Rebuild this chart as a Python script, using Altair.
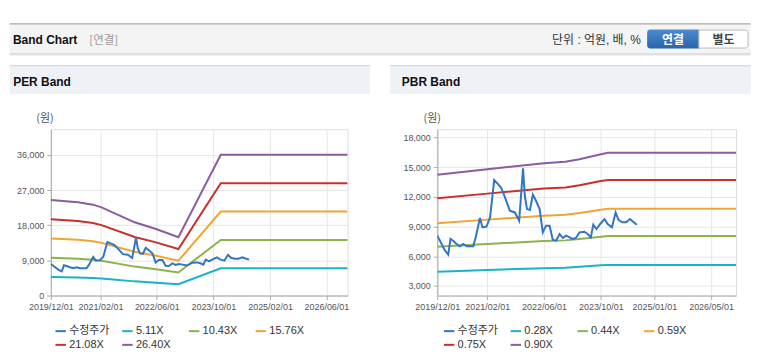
import altair as alt
import pandas as pd

# ---------------- data ----------------
price_dates = ["2019-12-01","2019-12-24","2020-02-06","2020-03-04","2020-03-23","2020-04-15","2020-05-14",
               "2020-06-12","2020-07-10","2020-08-08","2020-09-06","2020-10-04","2020-10-25","2020-11-30",
               "2020-12-22","2021-01-25","2021-02-25","2021-04-01","2021-05-04","2021-06-01","2021-07-01",
               "2021-08-13","2021-09-25","2021-11-01","2021-12-04","2021-12-19","2022-01-07","2022-02-01",
               "2022-02-26","2022-03-25","2022-04-25","2022-05-22","2022-06-19","2022-07-19","2022-08-16",
               "2022-09-13","2022-10-13","2022-11-10","2022-12-07","2023-01-07","2023-02-04","2023-03-01",
               "2023-04-01","2023-05-13","2023-06-10","2023-07-07","2023-07-28","2023-08-25","2023-09-25",
               "2023-11-01","2023-11-28","2024-01-04","2024-02-04","2024-03-01","2024-04-04","2024-05-04",
               "2024-06-07","2024-06-28","2024-08-04"]
price_values = [8078,7573,6564,6160,7740,7573,7236,
                7000,7236,7000,7000,7000,7910,9860,
                8920,9000,9930,13700,13290,12890,12010,
                10600,10430,9600,14900,12115,10770,10670,
                12217,11611,10770,8415,9090,9090,7640,
                7573,8246,7842,8078,7910,7740,7842,
                8415,8480,8250,7910,9190,8750,9260,
                9760,9260,8920,10430,9660,9430,9430,
                9760,9530,9190]

per_dates = ["2019-12-01","2020-07-22","2020-11-28","2021-02-10","2021-11-22","2022-05-25",
             "2022-12-04","2023-12-04","2026-12-01"]
per_5_11 = [4732,4619,4502,4369,3628,3296,2887,6970,6970]
per_10_43 = [9658,9429,9189,8918,7405,6727,5893,14227,14227]
per_15_76 = [14594,14247,13885,13475,11190,10165,8904,21497,21497]
per_21_08 = [19520,19056,18571,18023,14967,13597,11910,28753,28753]
per_26_40 = [24446,23866,23258,22572,18744,17028,14916,36010,36010]
per_labels = ["수정주가","5.11X","10.43X","15.76X","21.08X","26.40X"]

pbr_dates = ["2019-12-01","2021-02-01","2022-06-01","2022-12-01","2023-04-01","2023-10-01",
             "2023-12-01","2026-12-01"]
pbr_0_28 = [4430,4604,4794,4838,4922,5077,5121,5121]
pbr_0_44 = [6962,7236,7534,7602,7734,7979,8047,8047]
pbr_0_59 = [9335,9702,10102,10194,10371,10699,10791,10791]
pbr_0_75 = [11867,12333,12842,12958,13183,13600,13717,13717]
pbr_0_90 = [14240,14800,15410,15550,15820,16320,16460,16460]
pbr_labels = ["수정주가","0.28X","0.44X","0.59X","0.75X","0.90X"]

per_yticks = [0, 9000, 18000, 27000, 36000]
pbr_yticks = [3000, 6000, 9000, 12000, 15000, 18000]
per_xticks = [(2019,12),(2021,2),(2022,6),(2023,10),(2025,2),(2026,6)]
pbr_xticks = [(2019,12),(2021,2),(2022,6),(2023,10),(2025,1),(2026,5)]

colors = ["#3275c5","#19b2c6","#8db24e","#f2a433","#c9302c","#8c5ba0"]

# ---------------- tables ----------------
def band_table(dates, series, labels):
    rows = []
    for lab, vals in zip(labels[1:], series):
        for d, v in zip(dates, vals):
            rows.append({"date": d, "value": v, "series": lab})
    return pd.DataFrame(rows)

price_df = pd.DataFrame({"date": price_dates, "value": price_values})
per_band_df = band_table(per_dates, [per_5_11, per_10_43, per_15_76, per_21_08, per_26_40], per_labels)
pbr_band_df = band_table(pbr_dates, [pbr_0_28, pbr_0_44, pbr_0_59, pbr_0_75, pbr_0_90], pbr_labels)
per_price = price_df.assign(series=per_labels[0])
pbr_price = price_df.assign(series=pbr_labels[0])

# ---------------- layout constants ----------------
W1, W2, H = 298, 300, 167
OX, OY = 49.3, 128.3          # page position of the PER plot origin
RIGHT, BOTTOM = 752, 356      # visible page area that fits without overflow
LAT = "Liberation Sans"
KR = "Noto Sans CJK KR"
MIX = "Liberation Sans, Noto Sans CJK KR"

blank = alt.Data(values=[{}])

def X(p): return p - OX
def Y(p): return p - OY

def rect(x1, y1, x2, y2, **kw):
    return alt.Chart(blank).mark_rect(**kw).encode(
        x=alt.value(X(x1)), x2=alt.value(X(x2)), y=alt.value(Y(y1)), y2=alt.value(Y(y2)))

def hline(x1, x2, y, color, w=1.0):
    return alt.Chart(blank).mark_rule(color=color, strokeWidth=w).encode(
        x=alt.value(X(x1)), x2=alt.value(X(x2)), y=alt.value(Y(y)))

def text(s, x, y, **kw):
    return alt.Chart(blank).mark_text(**kw).encode(
        x=alt.value(X(x)), y=alt.value(Y(y)), text=alt.value(s))

btn_grad = alt.Gradient(gradient="linear",
                        stops=[alt.GradientStop(color="#4c8bd0", offset=0),
                               alt.GradientStop(color="#2a64ab", offset=1)],
                        x1=0, x2=0, y1=0, y2=1)

decor = [
    rect(8, 8, 9, 9, fill="white"),
    rect(RIGHT - 1, BOTTOM - 1, RIGHT, BOTTOM, fill="white"),
    rect(8, 22.5, RIGHT, 52.5, fill="#f4f4f4"),
    hline(8, RIGHT, 22.5, "#a9a9a9", 1.2),
    hline(8, RIGHT, 52.8, "#c4c4c4", 1),
    hline(8, RIGHT, 53.8, "#e2e2e2", 1),
    text("Band Chart", 11.3, 42.7, align="left", baseline="alphabetic", font=LAT,
         fontSize=12, fontWeight="bold", color="#111111"),
    text("[연결]", 88, 43, align="left", baseline="alphabetic", font=KR, fontSize=11.5, color="#999999"),
    text("단위 : 억원, 배, %", 641.7, 43, align="right", baseline="alphabetic", font=MIX,
         fontSize=12, color="#333333"),
    rect(648, 28.3, 700, 47.3, fill=btn_grad, cornerRadiusTopLeft=3, cornerRadiusBottomLeft=3),
    rect(700, 28.8, 749.3, 46.8, fill="white", stroke="#bbbbbb", strokeWidth=1,
         cornerRadiusTopRight=3, cornerRadiusBottomRight=3),
    text("연결", 674, 42.5, align="center", baseline="alphabetic", font=KR, fontSize=12,
         fontWeight="bold", color="white"),
    text("별도", 724.7, 42.5, align="center", baseline="alphabetic", font=KR, fontSize=12,
         fontWeight="bold", color="#444444"),
    rect(8, 64, 370, 93, fill="#eef2f7"),
    rect(390, 64, RIGHT, 93, fill="#eef2f7"),
    hline(8, 370, 64.5, "#d2d2d2", 1),
    hline(390, RIGHT, 64.5, "#d2d2d2", 1),
    text("PER Band", 11.5, 85, align="left", baseline="alphabetic", font=LAT,
         fontSize=12, fontWeight="bold", color="#111111"),
    text("PBR Band", 401.7, 85, align="left", baseline="alphabetic", font=LAT,
         fontSize=12, fontWeight="bold", color="#111111"),
]

def dt(y, m, d=1):
    return alt.DateTime(year=y, month=m, date=d, utc=True)

def panel(band_df, price_df_, labels, yticks, ydomain, xticks, legend_x, title_x):
    xenc = alt.X("date:T",
                 scale=alt.Scale(type="utc", domain=[dt(2019, 12), dt(2026, 12)]),
                 axis=alt.Axis(values=[dt(y, m) for y, m in xticks], format="%Y/%m/%d",
                               labelAngle=0, labelFlush=False, labelOverlap=False,
                               labelFont=LAT, labelFontSize=9, labelColor="#555555",
                               labelPadding=3, tickSize=4, tickColor="#aaaaaa",
                               domainColor="#aaaaaa", gridColor="#e6e6e6", title=None))
    yenc = alt.Y("value:Q",
                 scale=alt.Scale(domain=ydomain, nice=False, zero=False),
                 axis=alt.Axis(values=yticks, format=",d", labelFont=LAT, labelFontSize=9,
                               labelColor="#555555", labelPadding=3, tickSize=4,
                               tickColor="#aaaaaa", domainColor="#aaaaaa", gridColor="#e6e6e6",
                               title="(원)", titleAngle=0, titleX=title_x, titleY=-10.3,
                               titleAlign="center", titleBaseline="middle", titleFont=KR,
                               titleFontSize=11, titleFontWeight="normal", titleColor="#555555"))
    cenc = alt.Color("series:N",
                     scale=alt.Scale(domain=labels, range=colors),
                     legend=alt.Legend(orient="none", legendX=legend_x, legendY=196,
                                       direction="horizontal", columns=4, gridAlign="all",
                                       symbolType="stroke", symbolSize=110, symbolStrokeWidth=2,
                                       labelFont=MIX, labelFontSize=11, labelColor="#333333",
                                       labelOffset=2, columnPadding=8, rowPadding=2,
                                       padding=0, title=None))
    bands = alt.Chart(band_df).mark_line(strokeWidth=2, clip=True).encode(
        x=xenc, y=yenc, color=cenc, detail="series:N")
    price = alt.Chart(price_df_).mark_line(strokeWidth=2, clip=True).encode(
        x=xenc, y=yenc, color=cenc)
    return bands, price

per_b, per_p = panel(per_band_df, per_price, per_labels, per_yticks, [0, 42560], per_xticks,
                     3.4, -6.3)
pbr_b, pbr_p = panel(pbr_band_df, pbr_price, pbr_labels, pbr_yticks, [2020, 18850], pbr_xticks,
                     5.4, -5.6)

per = alt.layer(*decor, per_b, per_p).properties(width=W1, height=H)
pbr = alt.layer(pbr_b, pbr_p).properties(width=W2, height=H)

chart = alt.hconcat(per, pbr, spacing=90, bounds="flush").resolve_scale(
    x="independent", y="independent", color="independent"
).resolve_legend(color="independent").properties(padding=0).configure_view(
    stroke="#aaaaaa", strokeWidth=1
).configure(font=LAT, background="white")

chart.save("out.html", embed_options={"renderer": "svg", "actions": False})
